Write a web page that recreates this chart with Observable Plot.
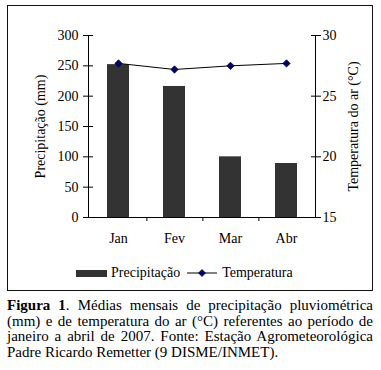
<!DOCTYPE html>
<html>
<head>
<meta charset="utf-8">
<script src="https://cdn.jsdelivr.net/npm/d3@7"></script>
<script src="https://cdn.jsdelivr.net/npm/@observablehq/plot@0.6"></script>
<style>
  html, body { margin: 0; padding: 0; background: #fff; }
  #wrap { position: relative; width: 381px; height: 370px; font-family: "Liberation Serif", "Times New Roman", serif; color: #000; }
  #frame { position: absolute; left: 7px; top: 5px; width: 366px; height: 286px; box-sizing: border-box; border: 1.5px solid #111; }
  #chart { position: absolute; left: 0; top: 0; }
  #legend { position: absolute; left: 76px; top: 264px; height: 18px; display: flex; align-items: center; font-size: 14px; white-space: nowrap; }
  #legend .sw { display: inline-block; width: 31px; height: 7px; background: #333; margin-right: 4px; }
  #legend svg { margin: 0 5px 0 7px; }
  #caption { position: absolute; left: 7px; top: 298px; width: 366px; font-size: 15px; line-height: 15.7px; text-align: justify; }
</style>
</head>
<body>
<div id="wrap">
  <div id="frame"></div>
  <div id="chart"></div>
  <div id="legend"></div>
  <div id="caption"></div>
</div>
<script>
const months = ["Jan", "Fev", "Mar", "Abr"];
const precipitacao = [252, 216, 100, 89];
const temperatura = [27.7, 27.2, 27.5, 27.7];
const leftTicks = [0, 50, 100, 150, 200, 250, 300];
const rightTicks = [15, 20, 25, 30];
const leftLabel = "Precipitação (mm)";
const rightLabel = "Temperatura do ar (°C)";
const legendLabels = ["Precipitação", "Temperatura"];

const tMin = 15, tMax = 30, pMax = 300;
const toP = t => (t - tMin) / (tMax - tMin) * pMax;

const data = months.map((m, i) => ({month: m, p: precipitacao[i], t: temperatura[i]}));

const W = 381, H = 255, mL = 88, mR = 66, mT = 35, mB = 38;
const bw = (W - mL - mR) / months.length;

const plot = Plot.plot({
  width: W, height: H,
  marginLeft: mL, marginRight: mR, marginTop: mT, marginBottom: mB,
  style: {fontFamily: "'Liberation Serif', 'Times New Roman', serif", fontSize: "14px", color: "#000", background: "transparent"},
  x: {domain: months, padding: 0, axis: null},
  y: {domain: [0, pMax], axis: null},
  marks: [
    Plot.barY(data, {x: "month", y: "p", fill: "#333", insetLeft: 17, insetRight: 17}),
    Plot.frame({anchor: "left", stroke: "#000"}),
    Plot.frame({anchor: "right", stroke: "#000"}),
    Plot.ruleY([0], {stroke: "#000"}),
    Plot.axisY({anchor: "left", ticks: leftTicks, tickSize: 10, dx: 5, tickPadding: 5, label: null, stroke: "#000", fill: "#000"}),
    Plot.axisY({anchor: "right", ticks: rightTicks.map(toP), tickFormat: d => tMin + d / pMax * (tMax - tMin), tickSize: 10, dx: -5, tickPadding: 2, label: null, stroke: "#000", fill: "#000"}),
    Plot.axisX(months.slice(0, -1), {anchor: "bottom", tickSize: 4, dx: bw / 2, tickFormat: () => "", label: null, stroke: "#000"}),
    Plot.axisX({anchor: "bottom", tickSize: 0, tickPadding: 16, label: null, fill: "#000"}),
    Plot.line(data, {x: "month", y: d => toP(d.t), stroke: "#000", strokeWidth: 1}),
    Plot.dot(data, {x: "month", y: d => toP(d.t), symbol: "diamond2", r: 3.3, fill: "#00007a", stroke: "#000", strokeWidth: 0.7}),
    Plot.text([leftLabel], {text: d => d, frameAnchor: "left", textAnchor: "middle", rotate: -90, dx: -48, fill: "#000"}),
    Plot.text([rightLabel], {text: d => d, frameAnchor: "right", textAnchor: "middle", rotate: -90, dx: 38, fill: "#000"})
  ]
});
document.getElementById("chart").appendChild(plot);

document.getElementById("legend").innerHTML =
  `<span class="sw"></span><span>${legendLabels[0]}</span>` +
  `<svg width="30" height="10" viewBox="0 0 30 10"><line x1="0" y1="5" x2="30" y2="5" stroke="#000" stroke-width="1"/><polygon points="15,1.5 18.5,5 15,8.5 11.5,5" fill="#00007a" stroke="#000" stroke-width="0.7"/></svg>` +
  `<span>${legendLabels[1]}</span>`;

document.getElementById("caption").innerHTML =
  `<b>Figura 1</b>. Médias mensais de precipitação pluviométrica (mm) e de temperatura do ar (°C) referentes ao período de janeiro a abril de 2007. Fonte: Estação Agrometeorológica Padre Ricardo Remetter (9 DISME/INMET).`;
</script>
</body>
</html>
